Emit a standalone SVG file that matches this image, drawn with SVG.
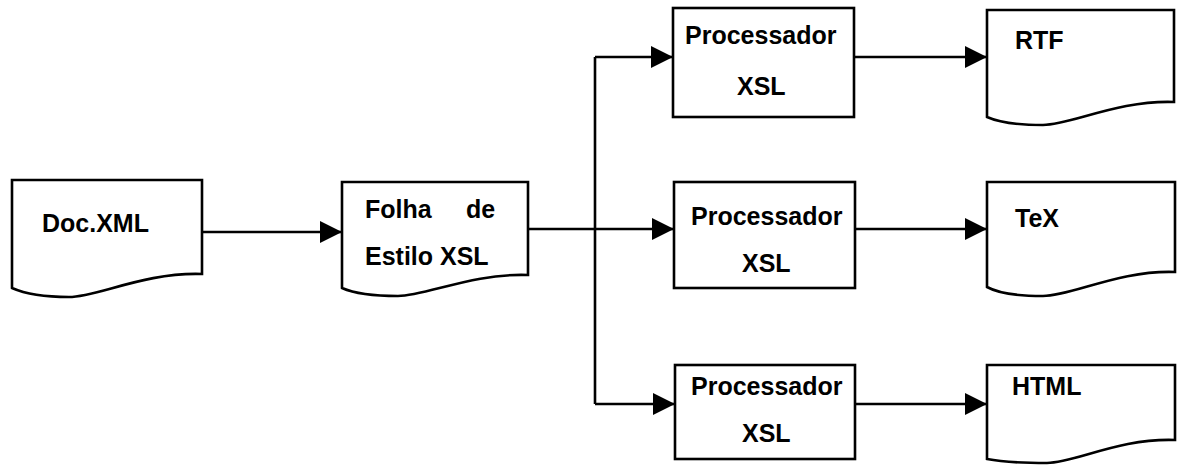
<svg xmlns="http://www.w3.org/2000/svg" width="1177" height="466" viewBox="0 0 1177 466">
  <style>
    .shape { fill: #ffffff; stroke: #000000; stroke-width: 2.6; stroke-linejoin: miter; }
    .wire { fill: none; stroke: #000000; stroke-width: 2.6; }
    .label { font-family: "Liberation Sans", Arial, sans-serif; font-size: 25px; font-weight: bold; fill: #000000; }
  </style>
  <defs>
    <marker id="arrow" markerUnits="userSpaceOnUse" markerWidth="22" markerHeight="22" refX="22" refY="11" orient="auto">
      <path d="M0,0 L22,11 L0,22 Z" fill="#000000"/>
    </marker>
  </defs>
  <rect width="1177" height="466" fill="#ffffff"/>

  <!-- connectors -->
  <g id="connectors">
    <path class="wire" d="M202,232 H342" marker-end="url(#arrow)"/>
    <path class="wire" d="M528,229 H674" marker-end="url(#arrow)"/>
    <path class="wire" d="M595,57 V404"/>
    <path class="wire" d="M595,57 H673" marker-end="url(#arrow)"/>
    <path class="wire" d="M595,404 H675" marker-end="url(#arrow)"/>
    <path class="wire" d="M854,57 H987" marker-end="url(#arrow)"/>
    <path class="wire" d="M855,229 H987" marker-end="url(#arrow)"/>
    <path class="wire" d="M855,404 H987" marker-end="url(#arrow)"/>
  </g>

  <!-- source document -->
  <g id="doc-xml">
    <path class="shape" d="M12,180 H202 V274 C145,272 97,297 69,297 C40,297 21,292 12,288 Z"/>
    <text class="label" x="42" y="232">Doc.XML</text>
  </g>

  <!-- stylesheet -->
  <g id="folha-estilo">
    <path class="shape" d="M342,182 H528 V275 C472,273 426,296 398,296 C370,296 351,292 342,288 Z"/>
    <text class="label" x="365" y="218">Folha</text>
    <text class="label" x="466" y="218">de</text>
    <text class="label" x="365" y="265">Estilo XSL</text>
  </g>

  <!-- processors -->
  <g id="proc-1">
    <rect class="shape" x="673" y="8" width="181" height="109"/>
    <text class="label" x="685" y="44">Processador</text>
    <text class="label" x="737" y="95">XSL</text>
  </g>
  <g id="proc-2">
    <rect class="shape" x="674" y="182" width="181" height="106"/>
    <text class="label" x="691" y="225">Processador</text>
    <text class="label" x="742" y="272">XSL</text>
  </g>
  <g id="proc-3">
    <rect class="shape" x="675" y="365" width="180" height="94"/>
    <text class="label" x="691" y="395">Processador</text>
    <text class="label" x="742" y="442">XSL</text>
  </g>

  <!-- output documents -->
  <g id="doc-rtf">
    <path class="shape" d="M987,10 H1174 V102 C1118,100 1071,125 1043,125 C1015,125 996,121 987,117 Z"/>
    <text class="label" x="1015" y="49">RTF</text>
  </g>
  <g id="doc-tex">
    <path class="shape" d="M987,182 H1175 V272 C1119,270 1072,296 1043,296 C1015,296 996,292 987,287 Z"/>
    <text class="label" x="1015" y="227">TeX</text>
  </g>
  <g id="doc-html">
    <path class="shape" d="M987,365 H1175 V440 C1119,438 1075,463 1047,463 C1018,463 997,461 987,459 Z"/>
    <text class="label" x="1012" y="395">HTML</text>
  </g>
</svg>
